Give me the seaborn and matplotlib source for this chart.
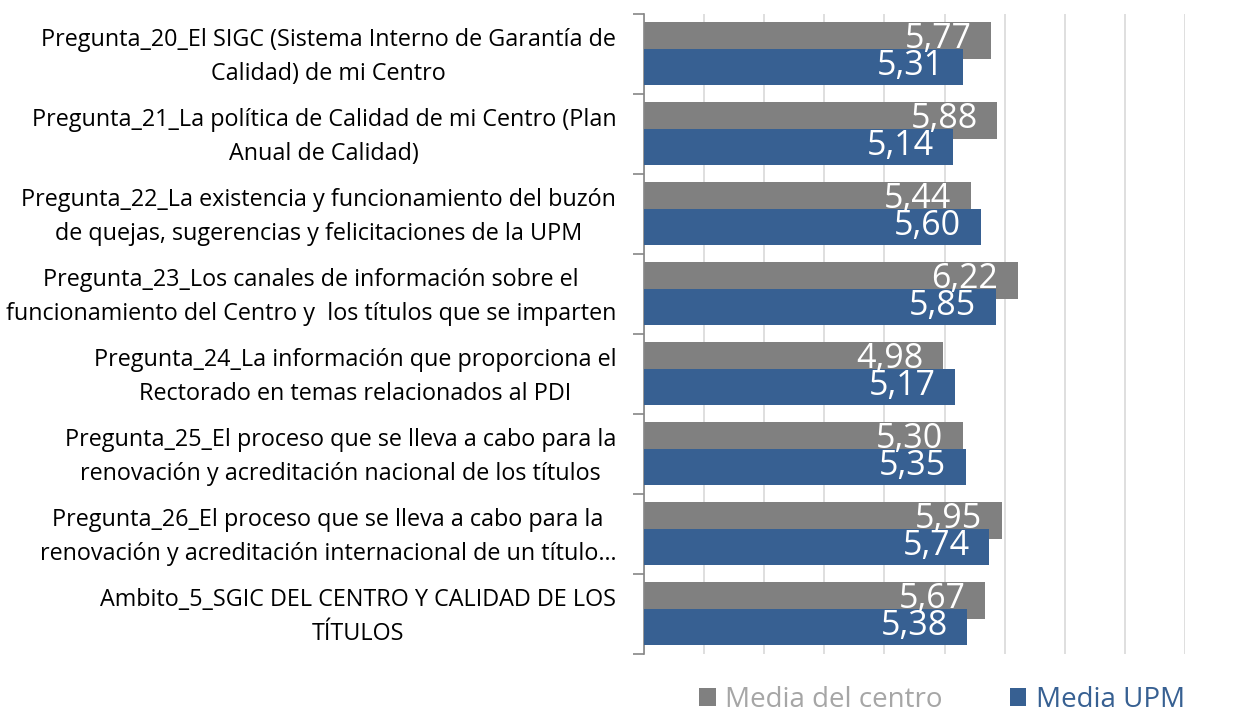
import matplotlib
matplotlib.use("Agg")
import matplotlib.pyplot as plt
import matplotlib.transforms as mtransforms
import seaborn as sns
import pandas as pd
import numpy as np
from matplotlib.patches import Patch

categories = [
    "Pregunta_20_El SIGC (Sistema Interno de Garantía de\nCalidad) de mi Centro",
    "Pregunta_21_La política de Calidad de mi Centro (Plan\nAnual de Calidad)",
    "Pregunta_22_La existencia y funcionamiento del buzón\nde quejas, sugerencias y felicitaciones de la UPM",
    "Pregunta_23_Los canales de información sobre el\nfuncionamiento del Centro y  los títulos que se imparten",
    "Pregunta_24_La información que proporciona el\nRectorado en temas relacionados al PDI",
    "Pregunta_25_El proceso que se lleva a cabo para la\nrenovación y acreditación nacional de los títulos",
    "Pregunta_26_El proceso que se lleva a cabo para la\nrenovación y acreditación internacional de un título…",
    "Ambito_5_SGIC DEL CENTRO Y CALIDAD DE LOS\nTÍTULOS",
]
media_centro = [5.77, 5.88, 5.44, 6.22, 4.98, 5.30, 5.95, 5.67]
media_upm = [5.31, 5.14, 5.60, 5.85, 5.17, 5.35, 5.74, 5.38]
series_names = ["Media del centro", "Media UPM"]

GRAY = "#808080"
BLUE = "#376092"
GRAY_TXT = "#A6A6A6"

sns.set_style("white")
plt.rcParams["font.family"] = ["Open Sans", "DejaVu Sans"]

fig = plt.figure(figsize=(12.44, 7.15), dpi=100)
ax = fig.add_axes([644 / 1244, 1 - 654 / 715, (1185 - 644) / 1244, (654 - 14) / 715])

idx = np.arange(len(categories))
df_c = pd.DataFrame({"pos": idx - 0.169, "value": media_centro})
df_u = pd.DataFrame({"pos": idx + 0.163, "value": media_upm})

sns.barplot(data=df_c, x="value", y="pos", orient="h", native_scale=True,
            width=0.46, color=GRAY, saturation=1, linewidth=0, ax=ax, zorder=2)
sns.barplot(data=df_u, x="value", y="pos", orient="h", native_scale=True,
            width=0.46, color=BLUE, saturation=1, linewidth=0, ax=ax, zorder=3)

for df in (df_c, df_u):
    for p, v in zip(df["pos"], df["value"]):
        ax.annotate(f"{v:.2f}".replace(".", ","), xy=(v, p), xytext=(-14, 1),
                    textcoords="offset points", ha="right", va="center",
                    color="white", fontsize=24.5, zorder=5)

ax.set_xlim(0, 9)
ax.set_ylim(len(categories) - 0.5, -0.5)
ax.set_xticks(np.arange(0, 10, 1))
ax.xaxis.grid(True, color="#D9D9D9", linewidth=1.2, zorder=0)
ax.set_axisbelow(True)
ax.tick_params(axis="x", bottom=False, labelbottom=False)

ax.set_yticks(idx)
ax.yaxis.set_minor_locator(matplotlib.ticker.FixedLocator(np.arange(-0.5, len(categories), 1)))
ax.tick_params(axis="y", which="major", left=False, pad=16.5)
ax.tick_params(axis="y", which="minor", left=True, length=8, width=1.2, color="#868686")
ax.set_yticklabels(categories, fontsize=16.8, multialignment="center", color="#000000")
shift = mtransforms.ScaledTranslation(0, 5 / 100, fig.dpi_scale_trans)
for lbl in ax.get_yticklabels():
    lbl.set_linespacing(1.58)
    lbl.set_transform(lbl.get_transform() + shift)
ax.set_xlabel("")
ax.set_ylabel("")

for s in ["top", "right", "bottom"]:
    ax.spines[s].set_visible(False)
ax.spines["left"].set_color("#868686")
ax.spines["left"].set_linewidth(1.2)

handles = [Patch(facecolor=GRAY, edgecolor="none"), Patch(facecolor=BLUE, edgecolor="none")]
leg = fig.legend(handles, series_names, loc="center", bbox_to_anchor=(942 / 1244, 1 - 700 / 715),
                 ncol=2, frameon=False, fontsize=20, handlelength=0.6, handleheight=0.6,
                 handletextpad=0.35, columnspacing=2.4)
for t, c in zip(leg.get_texts(), [GRAY_TXT, BLUE]):
    t.set_color(c)

fig.savefig("out.png", dpi=100)
